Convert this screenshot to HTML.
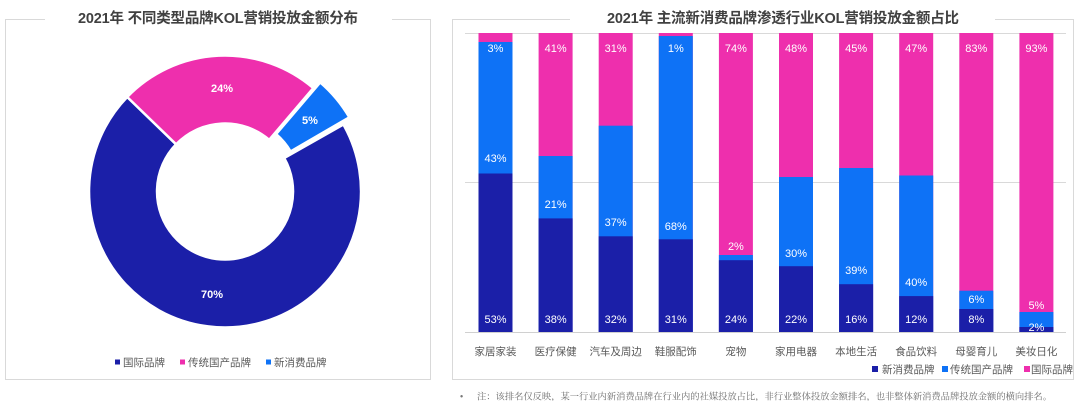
<!DOCTYPE html>
<html>
<head>
<meta charset="utf-8">
<style>
html,body{margin:0;padding:0;background:#fff;}
body{width:1080px;height:401px;overflow:hidden;}
svg{display:block;font-family:"Liberation Sans","Noto Sans CJK SC",sans-serif;}
.t{font-weight:bold;font-size:14.5px;fill:#404040;}
.lb{font-size:11px;fill:#fff;text-anchor:middle;}
.cat{font-size:10.5px;fill:#595959;text-anchor:middle;}
.lg{font-size:10.5px;fill:#595959;}
</style>
</head>
<body>
<svg width="1080" height="401" viewBox="0 0 1080 401" xmlns="http://www.w3.org/2000/svg">
  <!-- Left panel border -->
  <path d="M45,19.5 H5.5 V379.5 H430.5 V19.5 H392" fill="none" stroke="#d9d9d9" stroke-width="1"/>
  <text class="t" x="218" y="23" text-anchor="middle" textLength="280">2021年 不同类型品牌KOL营销投放金额分布</text>

  <!-- Donut -->
  <path d="M343.4,124.5 A136,136 0 1 1 127.2,97.0 L176.1,144.3 A68,68 0 1 0 284.2,158 Z" fill="#1b1fa8" stroke="#fff" stroke-width="2.5"/>
  <path d="M127.2,97.0 A136,136 0 0 1 313.3,88.1 L269.2,139.8 A68,68 0 0 0 176.1,144.3 Z" fill="#ee2fad" stroke="#fff" stroke-width="2.5"/>
  <path d="M320.2,82.4 A136,136 0 0 1 349.3,117.3 L290.6,151.5 A68,68 0 0 0 276.1,134.1 Z" fill="#0e72f6" stroke="#fff" stroke-width="2.5"/>
  <text class="lb" x="222" y="92" font-weight="bold">24%</text>
  <text class="lb" x="310" y="124" font-weight="bold">5%</text>
  <text class="lb" x="212" y="298" font-weight="bold">70%</text>

  <!-- Left legend -->
  <rect x="115" y="359.5" width="5" height="5" fill="#1b1fa8"/>
  <text class="lg" x="123" y="366">国际品牌</text>
  <rect x="180" y="359.5" width="5" height="5" fill="#ee2fad"/>
  <text class="lg" x="188" y="366">传统国产品牌</text>
  <rect x="266" y="359.5" width="5" height="5" fill="#0e72f6"/>
  <text class="lg" x="274" y="366">新消费品牌</text>

  <!-- Right panel border -->
  <path d="M570,19.5 H452.5 V379.5 H1073.5 V19.5 H995" fill="none" stroke="#d9d9d9" stroke-width="1"/>
  <text class="t" x="783" y="23" text-anchor="middle" textLength="352">2021年 主流新消费品牌渗透行业KOL营销投放金额占比</text>

  <!-- gridlines -->
  <line x1="465" y1="33.5" x2="1066" y2="33.5" stroke="#d9d9d9" stroke-width="1"/>
  <line x1="465" y1="182.5" x2="1066" y2="182.5" stroke="#d9d9d9" stroke-width="1"/>

  <!-- Bars: pink (full), blue, navy -->
  <g>
    <!-- 1 家居家装 -->
    <rect x="478.5" y="33" width="34" height="299" fill="#ee2fad"/>
    <rect x="478.5" y="42" width="34" height="290" fill="#0e72f6"/>
    <rect x="478.5" y="173.5" width="34" height="158.5" fill="#1b1fa8"/>
    <!-- 2 医疗保健 -->
    <rect x="538.6" y="33" width="34" height="299" fill="#ee2fad"/>
    <rect x="538.6" y="156" width="34" height="176" fill="#0e72f6"/>
    <rect x="538.6" y="218.4" width="34" height="113.6" fill="#1b1fa8"/>
    <!-- 3 汽车及周边 -->
    <rect x="598.7" y="33" width="34" height="299" fill="#ee2fad"/>
    <rect x="598.7" y="125.7" width="34" height="206.3" fill="#0e72f6"/>
    <rect x="598.7" y="236.3" width="34" height="95.7" fill="#1b1fa8"/>
    <!-- 4 鞋服配饰 -->
    <rect x="658.8" y="33" width="34" height="299" fill="#ee2fad"/>
    <rect x="658.8" y="36" width="34" height="296" fill="#0e72f6"/>
    <rect x="658.8" y="239.3" width="34" height="92.7" fill="#1b1fa8"/>
    <!-- 5 宠物 -->
    <rect x="718.9" y="33" width="34" height="299" fill="#ee2fad"/>
    <rect x="718.9" y="255" width="34" height="77" fill="#0e72f6"/>
    <rect x="718.9" y="260.2" width="34" height="71.8" fill="#1b1fa8"/>
    <!-- 6 家用电器 -->
    <rect x="779" y="33" width="34" height="299" fill="#ee2fad"/>
    <rect x="779" y="177" width="34" height="155" fill="#0e72f6"/>
    <rect x="779" y="266.2" width="34" height="65.8" fill="#1b1fa8"/>
    <!-- 7 本地生活 -->
    <rect x="839.1" y="33" width="34" height="299" fill="#ee2fad"/>
    <rect x="839.1" y="168" width="34" height="164" fill="#0e72f6"/>
    <rect x="839.1" y="284.2" width="34" height="47.8" fill="#1b1fa8"/>
    <!-- 8 食品饮料 -->
    <rect x="899.2" y="33" width="34" height="299" fill="#ee2fad"/>
    <rect x="899.2" y="175.5" width="34" height="156.5" fill="#0e72f6"/>
    <rect x="899.2" y="296.1" width="34" height="35.9" fill="#1b1fa8"/>
    <!-- 9 母婴育儿 -->
    <rect x="959.3" y="33" width="34" height="299" fill="#ee2fad"/>
    <rect x="959.3" y="290.7" width="34" height="41.3" fill="#0e72f6"/>
    <rect x="959.3" y="309" width="34" height="23" fill="#1b1fa8"/>
    <!-- 10 美妆日化 -->
    <rect x="1019.4" y="33" width="34" height="299" fill="#ee2fad"/>
    <rect x="1019.4" y="312" width="34" height="20" fill="#0e72f6"/>
    <rect x="1019.4" y="327" width="34" height="5" fill="#1b1fa8"/>
  </g>

  <!-- axis -->
  <line x1="465" y1="332.5" x2="1066" y2="332.5" stroke="#d0d0d0" stroke-width="1"/>

  <!-- Bar labels -->
  <g class="lbs">
    <text class="lb" x="495.5" y="52">3%</text>
    <text class="lb" x="555.6" y="52">41%</text>
    <text class="lb" x="615.7" y="52">31%</text>
    <text class="lb" x="675.8" y="52">1%</text>
    <text class="lb" x="735.9" y="52">74%</text>
    <text class="lb" x="796" y="52">48%</text>
    <text class="lb" x="856.1" y="52">45%</text>
    <text class="lb" x="916.2" y="52">47%</text>
    <text class="lb" x="976.3" y="52">83%</text>
    <text class="lb" x="1036.4" y="52">93%</text>

    <text class="lb" x="495.5" y="162">43%</text>
    <text class="lb" x="555.6" y="208">21%</text>
    <text class="lb" x="615.7" y="226">37%</text>
    <text class="lb" x="675.8" y="230">68%</text>
    <text class="lb" x="735.9" y="250">2%</text>
    <text class="lb" x="796" y="257">30%</text>
    <text class="lb" x="856.1" y="274">39%</text>
    <text class="lb" x="916.2" y="286">40%</text>
    <text class="lb" x="976.3" y="303">6%</text>
    <text class="lb" x="1036.4" y="309">5%</text>

    <text class="lb" x="495.5" y="323">53%</text>
    <text class="lb" x="555.6" y="323">38%</text>
    <text class="lb" x="615.7" y="323">32%</text>
    <text class="lb" x="675.8" y="323">31%</text>
    <text class="lb" x="735.9" y="323">24%</text>
    <text class="lb" x="796" y="323">22%</text>
    <text class="lb" x="856.1" y="323">16%</text>
    <text class="lb" x="916.2" y="323">12%</text>
    <text class="lb" x="976.3" y="323">8%</text>
    <text class="lb" x="1036.4" y="331">2%</text>
  </g>

  <!-- Category labels -->
  <text class="cat" x="495.5" y="355">家居家装</text>
  <text class="cat" x="555.6" y="355">医疗保健</text>
  <text class="cat" x="615.7" y="355">汽车及周边</text>
  <text class="cat" x="675.8" y="355">鞋服配饰</text>
  <text class="cat" x="735.9" y="355">宠物</text>
  <text class="cat" x="796" y="355">家用电器</text>
  <text class="cat" x="856.1" y="355">本地生活</text>
  <text class="cat" x="916.2" y="355">食品饮料</text>
  <text class="cat" x="976.3" y="355">母婴育儿</text>
  <text class="cat" x="1036.4" y="355">美妆日化</text>

  <!-- Right legend -->
  <rect x="872" y="366" width="6" height="6" fill="#1b1fa8"/>
  <text class="lg" x="882" y="373">新消费品牌</text>
  <rect x="942" y="366" width="6" height="6" fill="#0e72f6"/>
  <text class="lg" x="950" y="373">传统国产品牌</text>
  <rect x="1024" y="366" width="6" height="6" fill="#ee2fad"/>
  <text class="lg" x="1031" y="373">国际品牌</text>

  <!-- Note -->
  <text x="460" y="399.5" font-size="9px" fill="#777">•</text>
  <text x="477" y="399.5" font-size="9.3px" fill="#6e6e6e" textLength="575" style="font-family:'Liberation Serif','Noto Serif CJK SC',serif;">注：该排名仅反映，某一行业内新消费品牌在行业内的社媒投放占比，非行业整体投放金额排名，也非整体新消费品牌投放金额的横向排名。</text>
</svg>
</body>
</html>
